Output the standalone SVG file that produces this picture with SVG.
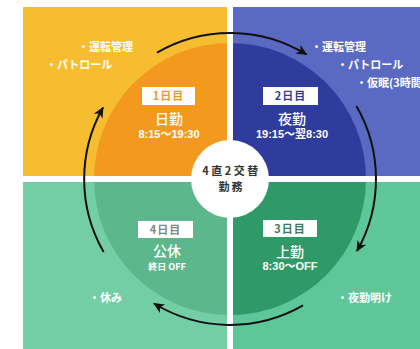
<svg xmlns="http://www.w3.org/2000/svg" width="420" height="349" viewBox="0 0 420 349">
<style>
text{font-family:"Noto Sans CJK JP","Liberation Sans",sans-serif;font-weight:bold}
.w{fill:#ffffff}
.note{font-size:11px}
.title{font-size:14px;text-anchor:middle;font-weight:500}
.time{font-size:11px;text-anchor:middle;font-family:"Liberation Sans","Noto Sans CJK JP",sans-serif}
.box{fill:#ffffff}
.boxt{font-size:11px;text-anchor:middle;letter-spacing:1px}
.arc{fill:none;stroke:#111111;stroke-width:2;marker-end:url(#ah)}
.gap{fill:#ffffff}
</style>
<defs>
<marker id="ah" markerUnits="userSpaceOnUse" markerWidth="14" markerHeight="12" refX="10" refY="5" orient="auto" viewBox="0 0 14 10">
<path d="M0,0 L11,5 L0,10 L3,5 Z" fill="#111111"/>
</marker>
</defs>
<rect width="420" height="349" fill="#ffffff"/>
<g id="day1">
<rect x="23" y="7" width="207" height="172" fill="#F6BD31"/>
<path d="M230,179 L94,179 A136,136 0 0 1 230,43 Z" fill="#F39A1E"/>
<text class="w note" x="78" y="51">・運転管理</text>
<text class="w note" x="46" y="69">・パトロール</text>
<rect class="box" x="142" y="87" width="53" height="18"/>
<text class="boxt" x="168.5" y="100" fill="#F39A1E">1日目</text>
<text class="w title" x="169" y="124">日勤</text>
<text class="w time" x="169" y="138">8:15～19:30</text>
</g>
<g id="day2">
<rect x="230" y="7" width="190" height="172" fill="#5A6AC3"/>
<path d="M230,179 L230,43 A136,136 0 0 1 366,179 Z" fill="#2F3C9E"/>
<text class="w note" x="311" y="51">・運転管理</text>
<text class="w note" x="337" y="69">・パトロール</text>
<text class="w note" x="356" y="87">・仮眠(3時間)</text>
<rect class="box" x="263" y="87" width="55" height="18"/>
<text class="boxt" x="290.5" y="100" fill="#2F3C9E">2日目</text>
<text class="w title" x="292" y="124">夜勤</text>
<text class="w time" x="292" y="138">19:15～翌8:30</text>
</g>
<g id="day3">
<rect x="230" y="179" width="190" height="170" fill="#5EC698"/>
<path d="M230,179 L366,179 A136,136 0 0 1 230,315 Z" fill="#2F9A67"/>
<rect class="box" x="263" y="220" width="54" height="17"/>
<text class="boxt" x="290" y="233" fill="#3a7a5a">3日目</text>
<text class="w title" x="290" y="257">上勤</text>
<text class="w time" x="290" y="270">8:30～OFF</text>
<text class="w note" x="337" y="302">・夜勤明け</text>
</g>
<g id="day4">
<rect x="23" y="179" width="207" height="170" fill="#73CEA5"/>
<path d="M230,179 L230,315 A136,136 0 0 1 94,179 Z" fill="#5DB78D"/>
<rect class="box" x="138" y="221" width="55" height="17"/>
<text class="boxt" x="165.5" y="234" fill="#7d8a84">4日目</text>
<text class="w title" x="167" y="256">公休</text>
<text class="w" x="167" y="269.5" font-size="9" text-anchor="middle">終日 OFF</text>
<text class="w note" x="89" y="302">・休み</text>
</g>
<g id="dividers">
<rect class="gap" x="227" y="0" width="6" height="349"/>
<rect class="gap" x="0" y="176" width="420" height="6"/>
<rect class="gap" x="0" y="0" width="23" height="349"/>
<rect class="gap" x="0" y="0" width="420" height="7"/>
</g>
<g id="connectors">
<path class="arc" d="M157,52.6 A146,146 0 0 1 306.5,54.5"/>
<path class="arc" d="M356.4,106 A146,146 0 0 1 357,251"/>
<path class="arc" d="M303,305.4 A146,146 0 0 1 154,303.5"/>
<path class="arc" d="M103.6,252 A146,146 0 0 1 103,107.5"/>
</g>
<g id="center">
<circle cx="230" cy="179" r="39" fill="#ffffff"/>
<text x="231.5" y="175" font-size="11" text-anchor="middle" letter-spacing="2.5" fill="#333333">4直2交替</text>
<text x="231.5" y="191" font-size="11" text-anchor="middle" letter-spacing="2" fill="#333333">勤務</text>
</g>
</svg>
